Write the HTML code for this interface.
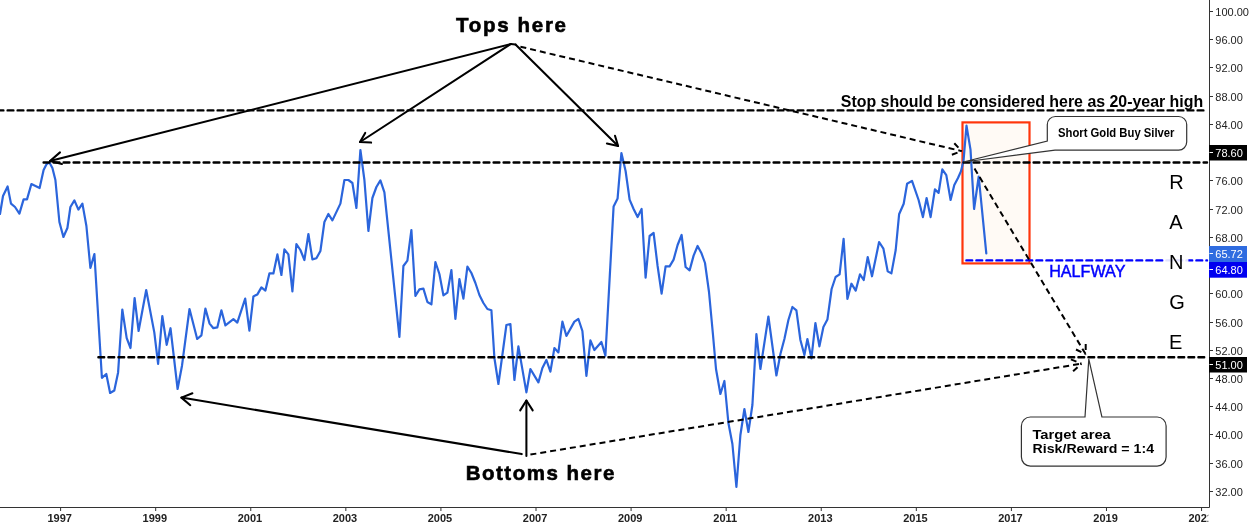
<!DOCTYPE html>
<html><head><meta charset="utf-8"><style>
html,body{margin:0;padding:0;background:#fff;width:1250px;height:525px;overflow:hidden}
svg{display:block;will-change:transform}
text{font-family:"Liberation Sans",sans-serif}
</style></head><body>
<svg width="1250" height="525" viewBox="0 0 1250 525">
<rect x="964" y="124.2" width="63.3" height="137" fill="#fffaf5"/><rect x="962.5" y="122.4" width="67" height="141" fill="none" stroke="#ff350a" stroke-width="2.2"/>
<polyline points="0.0,214.0 3.0,196.0 7.6,186.4 11.0,203.6 15.0,207.0 19.4,213.6 23.6,199.4 27.0,199.4 31.4,184.0 39.6,188.0 43.6,170.0 46.4,164.4 49.4,162.4 52.4,168.0 55.4,180.0 59.4,222.0 63.4,237.0 67.4,228.0 70.4,207.0 74.4,200.4 78.4,209.6 82.4,203.6 86.4,226.0 90.4,268.0 94.4,254.0 101.9,377.8 106.3,374.0 110.1,393.0 114.3,390.5 118.1,372.4 122.3,309.5 126.7,338.1 130.5,348.0 134.6,298.0 138.6,331.0 146.2,290.0 154.3,332.4 158.1,363.8 162.3,316.0 166.7,344.8 170.5,328.2 177.6,389.0 182.0,365.7 189.5,309.0 197.2,339.0 201.4,335.3 205.4,308.6 209.6,323.6 213.4,328.2 217.3,327.4 221.4,310.3 225.4,325.4 233.4,319.2 237.3,322.6 245.2,298.6 249.4,330.6 253.4,296.4 257.4,294.4 261.4,287.4 265.4,290.6 269.4,273.4 273.4,273.4 277.4,254.4 281.4,275.0 284.4,249.4 288.4,254.4 292.4,291.4 296.4,244.0 300.4,250.0 304.4,260.0 308.4,234.0 312.4,259.4 316.4,258.3 320.4,251.0 324.4,222.0 328.4,214.0 332.4,220.4 340.4,203.6 344.4,180.0 348.4,180.0 352.4,183.0 356.4,208.0 360.4,150.0 364.4,180.0 368.4,231.0 372.4,198.0 376.4,187.0 380.4,180.4 384.4,192.4 399.4,337.0 403.4,266.0 407.4,260.6 411.4,230.0 415.4,296.0 419.4,289.4 423.4,288.6 427.4,302.0 431.4,304.4 435.4,262.0 439.4,274.0 443.4,295.4 447.4,292.6 451.4,270.0 455.4,319.0 459.4,279.0 463.4,298.6 467.4,266.6 471.4,273.0 475.4,283.0 479.4,295.0 483.4,303.0 487.4,309.0 491.4,310.2 494.4,358.0 498.4,384.0 506.4,325.0 510.4,324.0 514.4,380.0 518.4,346.4 526.4,392.4 530.4,369.0 538.4,382.4 542.4,368.0 546.4,360.0 550.4,371.6 554.4,348.0 558.4,352.4 562.4,321.6 566.4,336.0 574.4,321.6 578.4,319.0 582.4,331.0 586.4,376.0 590.4,340.4 594.4,350.0 601.4,342.0 605.4,355.6 613.6,206.4 617.6,198.4 621.4,153.0 625.6,171.0 629.6,199.6 633.6,209.0 637.6,217.0 641.6,209.0 645.6,277.6 649.6,236.0 653.6,233.0 657.6,266.0 661.6,293.6 665.6,266.4 669.6,266.4 673.6,259.6 677.6,245.0 681.6,235.0 685.6,267.0 689.6,270.4 693.6,255.6 697.6,246.0 701.6,253.6 705.0,263.0 709.0,292.0 713.0,335.0 716.0,369.0 720.4,394.0 724.4,381.0 728.4,423.0 732.4,444.0 736.4,487.0 740.4,435.0 744.4,409.0 748.4,432.0 752.4,405.0 756.4,334.0 760.4,369.0 768.4,316.5 776.4,375.5 780.4,354.0 784.4,339.0 788.4,320.0 792.4,307.0 796.4,310.4 800.4,340.0 804.4,355.0 807.4,339.0 811.4,358.4 815.4,323.0 819.4,346.4 823.4,327.0 827.4,319.6 831.6,289.0 835.6,277.0 839.6,274.4 843.6,238.8 847.4,299.0 851.4,283.7 855.7,290.6 860.0,274.3 863.7,280.0 867.7,257.1 872.0,276.3 879.1,242.0 883.4,248.6 887.7,271.4 891.4,273.4 895.7,250.0 899.1,214.3 903.7,203.7 907.1,183.7 912.0,180.9 918.6,200.0 922.9,217.1 926.6,198.0 930.6,217.1 934.9,189.4 938.6,192.9 942.3,169.4 946.3,175.1 950.6,200.0 954.3,184.9 958.0,178.0 960.9,171.4 963.5,161.0 966.5,125.6 970.5,149.6 974.1,209.0 978.7,176.5 986.3,253.3" fill="none" stroke="#2b65dc" stroke-width="2.2" stroke-linejoin="round" stroke-linecap="round"/>
<g stroke="#000" stroke-width="2.4" fill="none" stroke-dasharray="5.8 4.2" stroke-linecap="round">
<line x1="-2.4" y1="110.4" x2="1207" y2="110.4"/>
<line x1="43.6" y1="162.5" x2="1207" y2="162.5"/>
<line x1="98.4" y1="357.3" x2="1205" y2="357.3"/>
</g>
<line x1="966.4" y1="260.4" x2="1207" y2="260.4" stroke="#0000ff" stroke-width="2.4" stroke-dasharray="5.8 4.2" stroke-linecap="round"/>
<rect x="1164.4" y="254" width="24" height="14" fill="#fff" fill-opacity="0.88"/>
<g stroke="#000" stroke-width="2.05" fill="none" stroke-linecap="round" stroke-linejoin="round"><line x1="510.7" y1="44.1" x2="50" y2="161"/><polyline points="60,152.4 50,161 62,164"/><line x1="510.7" y1="44.1" x2="360" y2="142"/><polyline points="365.2,132.9 360,142 371.1,142.6"/><line x1="515.5" y1="44.6" x2="618.1" y2="146"/><polyline points="615,135.7 618.1,146 606.9,143.5"/><line x1="510.7" y1="44.1" x2="515.5" y2="44.6"/><line x1="521.7" y1="454.1" x2="181.4" y2="397.6"/><polyline points="192.4,393.3 181.4,397.6 190.3,405.2"/><line x1="526.4" y1="456" x2="526.4" y2="400.5"/><polyline points="520.2,410.4 526.4,400.5 532.7,410.4"/></g>
<g stroke="#000" stroke-width="2" fill="none" stroke-linecap="butt" stroke-linejoin="round"><line x1="520.4" y1="46.7" x2="961.6" y2="151.1" stroke-dasharray="6 4"/><line x1="954.3" y1="143.3" x2="961.6" y2="151.1" stroke-dasharray="6 4"/><line x1="951.9" y1="154.8" x2="961.6" y2="151.1" stroke-dasharray="6 4"/><line x1="530.4" y1="454.6" x2="1081.4" y2="363.7" stroke-dasharray="6 4"/><line x1="1070.9" y1="359.4" x2="1081.4" y2="363.7" stroke-dasharray="6 4"/><line x1="1073.1" y1="371.2" x2="1081.4" y2="363.7" stroke-dasharray="6 4"/><line x1="974.5" y1="168.5" x2="1085.7" y2="354.3" stroke-dasharray="6 4"/><line x1="1085.7" y1="344" x2="1085.7" y2="354.3" stroke-dasharray="6 4"/><line x1="1076" y1="349.5" x2="1085.7" y2="354.3" stroke-dasharray="6 4"/></g>
<path d="M1055.3,116.5 H1178.7 A8,8 0 0 1 1186.7,124.5 V142.1 A8,8 0 0 1 1178.7,150.1 H1055 L963.3,162 L1047.3,141 V124.5 A8,8 0 0 1 1055.3,116.5 Z" fill="#fff" stroke="#333" stroke-width="1.2"/>
<path d="M1030.4,417 H1085 L1088.8,359.1 L1101.9,417 H1157.1 A9,9 0 0 1 1166.1,426 V457.1 A9,9 0 0 1 1157.1,466.1 H1030.4 A9,9 0 0 1 1021.4,457.1 V426 A9,9 0 0 1 1030.4,417 Z" fill="#fff" stroke="#333" stroke-width="1.2"/>
<g font-weight="bold" fill="#000">
<text x="456" y="32.2" font-size="20.5" stroke="#000" stroke-width="0.6" textLength="110" lengthAdjust="spacing">Tops here</text>
<text x="465.7" y="479.5" font-size="20.5" stroke="#000" stroke-width="0.6" textLength="148.7" lengthAdjust="spacing">Bottoms here</text>
<text x="1058" y="136.8" font-size="12" textLength="116.5" lengthAdjust="spacingAndGlyphs">Short Gold Buy Silver</text>
<text x="1032.4" y="438.7" font-size="13" textLength="78.4" lengthAdjust="spacingAndGlyphs">Target area</text>
<text x="1032.6" y="452.8" font-size="13" textLength="121.4" lengthAdjust="spacingAndGlyphs">Risk/Reward = 1:4</text>
</g>
<text x="840.8" y="106.6" font-size="16" font-weight="bold" textLength="362.4" lengthAdjust="spacingAndGlyphs">Stop should be considered here as 20-year high</text>
<text x="1049.2" y="276.8" font-size="16" fill="#0000ff" stroke="#0000ff" stroke-width="0.45" textLength="76.2" lengthAdjust="spacingAndGlyphs">HALFWAY</text>
<g font-size="20" text-anchor="middle" fill="#000">
<text x="1176.5" y="188.9">R</text><text x="1176" y="228.5">A</text><text x="1176.2" y="268.6">N</text><text x="1177" y="309">G</text><text x="1175.7" y="349">E</text>
</g>
<clipPath id="xc"><rect x="0" y="0" width="1208.3" height="525"/></clipPath><g font-size="11" font-weight="bold" text-anchor="middle" fill="#222" clip-path="url(#xc)"><text x="59.7" y="522">1997</text><text x="154.8" y="522">1999</text><text x="249.9" y="522">2001</text><text x="344.9" y="522">2003</text><text x="440.0" y="522">2005</text><text x="535.1" y="522">2007</text><text x="630.2" y="522">2009</text><text x="725.3" y="522">2011</text><text x="820.3" y="522">2013</text><text x="915.4" y="522">2015</text><text x="1010.5" y="522">2017</text><text x="1105.6" y="522">2019</text><text x="1200.7" y="522">2021</text></g>
<rect x="1210" y="0" width="40" height="507" fill="#fff"/>
<g stroke="#333" stroke-width="1">
<line x1="1209.5" y1="0" x2="1209.5" y2="507.5"/>
<line x1="0" y1="507.5" x2="1209.5" y2="507.5"/>
<line x1="1209.5" y1="11.5" x2="1213.0" y2="11.5"/><line x1="1209.5" y1="39.5" x2="1213.0" y2="39.5"/><line x1="1209.5" y1="67.5" x2="1213.0" y2="67.5"/><line x1="1209.5" y1="96.5" x2="1213.0" y2="96.5"/><line x1="1209.5" y1="124.5" x2="1213.0" y2="124.5"/><line x1="1209.5" y1="180.5" x2="1213.0" y2="180.5"/><line x1="1209.5" y1="209.5" x2="1213.0" y2="209.5"/><line x1="1209.5" y1="237.5" x2="1213.0" y2="237.5"/><line x1="1209.5" y1="293.5" x2="1213.0" y2="293.5"/><line x1="1209.5" y1="322.5" x2="1213.0" y2="322.5"/><line x1="1209.5" y1="350.5" x2="1213.0" y2="350.5"/><line x1="1209.5" y1="378.5" x2="1213.0" y2="378.5"/><line x1="1209.5" y1="406.5" x2="1213.0" y2="406.5"/><line x1="1209.5" y1="434.5" x2="1213.0" y2="434.5"/><line x1="1209.5" y1="463.5" x2="1213.0" y2="463.5"/><line x1="1209.5" y1="491.5" x2="1213.0" y2="491.5"/><line x1="60.6" y1="507.5" x2="60.6" y2="511"/><line x1="155.68" y1="507.5" x2="155.68" y2="511"/><line x1="250.76" y1="507.5" x2="250.76" y2="511"/><line x1="345.84000000000003" y1="507.5" x2="345.84000000000003" y2="511"/><line x1="440.92" y1="507.5" x2="440.92" y2="511"/><line x1="536.0" y1="507.5" x2="536.0" y2="511"/><line x1="631.08" y1="507.5" x2="631.08" y2="511"/><line x1="726.16" y1="507.5" x2="726.16" y2="511"/><line x1="821.24" y1="507.5" x2="821.24" y2="511"/><line x1="916.32" y1="507.5" x2="916.32" y2="511"/><line x1="1011.4" y1="507.5" x2="1011.4" y2="511"/><line x1="1106.4799999999998" y1="507.5" x2="1106.4799999999998" y2="511"/><line x1="1201.56" y1="507.5" x2="1201.56" y2="511"/>
</g>
<g font-size="11" fill="#222"><text x="1215.3" y="15.5">100.00</text><text x="1215.3" y="43.5">96.00</text><text x="1215.3" y="71.5">92.00</text><text x="1215.3" y="100.5">88.00</text><text x="1215.3" y="128.5">84.00</text><text x="1215.3" y="184.5">76.00</text><text x="1215.3" y="213.5">72.00</text><text x="1215.3" y="241.5">68.00</text><text x="1215.3" y="297.5">60.00</text><text x="1215.3" y="326.5">56.00</text><text x="1215.3" y="354.5">52.00</text><text x="1215.3" y="382.5">48.00</text><text x="1215.3" y="410.5">44.00</text><text x="1215.3" y="438.5">40.00</text><text x="1215.3" y="467.5">36.00</text><text x="1215.3" y="495.5">32.00</text></g>
<g font-size="11"><rect x="1209" y="145" width="38" height="15.5" fill="#000"/><line x1="1209.5" y1="152.5" x2="1213.0" y2="152.5" stroke="#fff" stroke-width="1"/><text x="1215.3" y="156.5" fill="#fff">78.60</text><rect x="1209" y="246" width="38" height="16" fill="#2f6ce0"/><line x1="1209.5" y1="253.5" x2="1213.0" y2="253.5" stroke="#fff" stroke-width="1"/><text x="1215.3" y="257.5" fill="#fff">65.72</text><rect x="1209" y="262" width="38" height="15.699999999999989" fill="#0000f0"/><line x1="1209.5" y1="269.5" x2="1213.0" y2="269.5" stroke="#fff" stroke-width="1"/><text x="1215.3" y="273.5" fill="#fff">64.80</text><rect x="1209" y="357" width="38" height="15.5" fill="#000"/><line x1="1209.5" y1="364.5" x2="1213.0" y2="364.5" stroke="#fff" stroke-width="1"/><text x="1215.3" y="368.5" fill="#fff">51.00</text></g>
</svg>
</body></html>
